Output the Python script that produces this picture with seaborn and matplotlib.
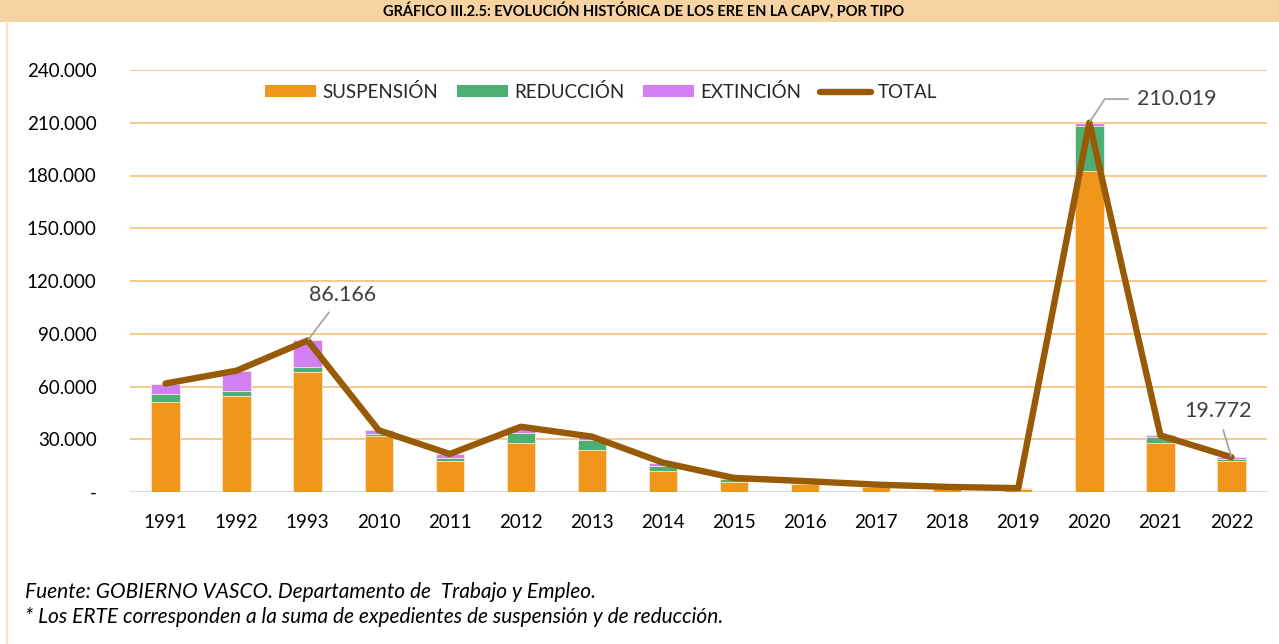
import numpy as np
import pandas as pd
import matplotlib
matplotlib.use('Agg')
import matplotlib.pyplot as plt
import seaborn as sns
from matplotlib.patches import Patch, Rectangle
from matplotlib.lines import Line2D

years = ['1991', '1992', '1993', '2010', '2011', '2012', '2013', '2014',
         '2015', '2016', '2017', '2018', '2019', '2020', '2021', '2022']
suspension = [51400, 54600, 68100, 32000, 17600, 28000, 23700, 11900,
              5500, 4400, 2700, 1600, 1500, 182700, 28000, 17600]
reduccion = [4300, 3000, 3200, 1200, 1900, 5700, 5700, 3100,
             1700, 700, 300, 200, 100, 25600, 3100, 1300]
extincion = [5900, 11400, 14866, 1900, 2100, 3400, 2100, 1700,
             800, 1100, 1200, 1100, 600, 1719, 1100, 872]
total = [61700, 69000, 86166, 35100, 21600, 37100, 31500, 16700,
         8000, 6200, 4200, 2900, 2200, 210019, 32200, 19772]

yticks = [0, 30000, 60000, 90000, 120000, 150000, 180000, 210000, 240000]
ytick_labels = ['-', '30.000', '60.000', '90.000', '120.000', '150.000',
                '180.000', '210.000', '240.000']

c_susp = '#F0961A'
c_red = '#4CAF73'
c_ext = '#D27FF4'
c_tot = '#985A06'
c_grid = '#F7BE77'

sns.set_style('white')
plt.rcParams['font.family'] = ['Lato', 'DejaVu Sans']

df = pd.DataFrame({'year': years, 'susp': suspension, 'red': reduccion,
                   'ext': extincion, 'total': total})
df['s1'] = df['susp']
df['s2'] = df['susp'] + df['red']
df['s3'] = df['s2'] + df['ext']
df['pos'] = np.arange(len(df))

fig = plt.figure(figsize=(12.79, 6.44), dpi=100)
fig.patch.set_facecolor('white')

# top band and left frame line
fig.patches.append(Rectangle((0, 1 - 22 / 644), 1, 22 / 644, transform=fig.transFigure,
                             facecolor='#F8D3A2', edgecolor='none', zorder=0))
fig.add_artist(Line2D([7 / 1279, 7 / 1279], [0, 1 - 22 / 644], transform=fig.transFigure,
                      color='#FCE3C6', lw=1.5))
fig.text(0.503, 1 - 2 / 644,
         'GRÁFICO III.2.5: EVOLUCIÓN HISTÓRICA DE LOS ERE EN LA CAPV, POR TIPO',
         ha='center', va='top', fontsize=10.5, fontweight='bold', color='black')

ax = fig.add_axes([130 / 1279, (644 - 492) / 644, 1137 / 1279, 422 / 644])
ax.set_facecolor('none')

for col, c in [('s3', c_ext), ('s2', c_red), ('s1', c_susp)]:
    sns.barplot(data=df, x='year', y=col, color=c, saturation=1, width=0.4,
                errorbar=None, edgecolor='#FCE9D2', linewidth=0.6, ax=ax, zorder=2)

sns.lineplot(data=df, x='pos', y='total', color=c_tot, lw=4.6, ax=ax,
             zorder=4, solid_capstyle='round', solid_joinstyle='round')

ax.set_xlim(-0.5, len(years) - 0.5)
ax.set_ylim(0, 240000)
ax.set_yticks(yticks)
ax.set_yticklabels(ytick_labels)
ax.set_xticks(range(len(years)))
ax.set_xticklabels(years)
ax.tick_params(axis='both', length=0, labelsize=13.5, colors='black')
ax.tick_params(axis='y', pad=24)
ax.tick_params(axis='x', pad=16)
ax.set_xlabel('')
ax.set_ylabel('')
for s in ax.spines.values():
    s.set_visible(False)
for v in yticks[1:]:
    ax.axhline(v, color=c_grid, lw=1.2, zorder=1)
ax.axhline(0, color='#D9D9D9', lw=2, zorder=1)

lbl = dict(fontsize=15.5, color='#404040', ha='center', va='center')
arr = dict(arrowstyle='-', color='#A6A6A6', lw=1.3, shrinkA=4, shrinkB=1)
i93 = years.index('1993')
ax.annotate('86.166', xy=(i93, total[i93]), xytext=(25, 33), textcoords='offset points',
            arrowprops=arr, zorder=5, **lbl)
i22 = years.index('2022')
ax.annotate('19.772', xy=(i22, total[i22]), xytext=(-10, 33), textcoords='offset points',
            arrowprops=arr, zorder=5, **lbl)
i20 = years.index('2020')
arr2 = dict(arr, connectionstyle='angle,angleA=0,angleB=57,rad=0', relpos=(0, 0.5))
ax.annotate('210.019', xy=(i20, total[i20]), xytext=(63, 17), textcoords='offset points',
            arrowprops=arr2, zorder=5, **lbl)

handles = [Patch(facecolor=c_susp, edgecolor='none', label='SUSPENSIÓN'),
           Patch(facecolor=c_red, edgecolor='none', label='REDUCCIÓN'),
           Patch(facecolor=c_ext, edgecolor='none', label='EXTINCIÓN'),
           Line2D([0], [0], color=c_tot, lw=4.6, solid_capstyle='round', label='TOTAL')]
ax.legend(handles=handles, ncol=4, loc='center',
          bbox_to_anchor=((601 - 130) / 1137, (492 - 92) / 422),
          frameon=False, fontsize=13.5, handlelength=2.7, handleheight=0.6,
          handletextpad=0.35, columnspacing=1.0)

fig.text(25 / 1279, 1 - 592 / 644, 'Fuente: GOBIERNO VASCO. Departamento de  Trabajo y Empleo.',
         fontsize=15, style='italic', va='center', ha='left', color='black')
fig.text(25 / 1279, 1 - 617 / 644,
         '* Los ERTE corresponden a la suma de expedientes de suspensión y de reducción.',
         fontsize=15, style='italic', va='center', ha='left', color='black')

fig.savefig('out.png', dpi=100)
